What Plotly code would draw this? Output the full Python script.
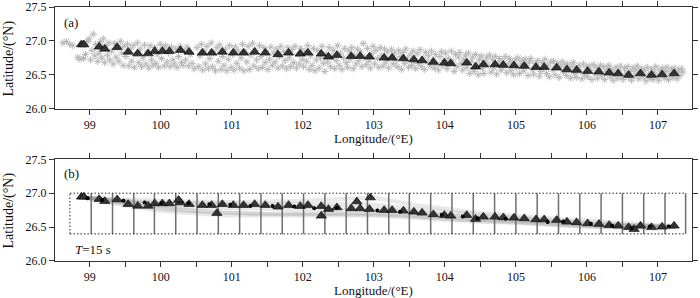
import plotly.graph_objects as go

# ---------------- data ----------------
# station triangles (panel a, also used in panel b)
tri_lon = [98.883, 98.916, 99.132, 99.211, 99.385, 99.540, 99.675, 99.821, 99.914, 100.022,
           100.121, 100.276, 100.398, 100.585, 100.716, 100.866, 101.021, 101.166, 101.321, 101.471,
           101.650, 101.799, 101.963, 102.072, 102.259, 102.361, 102.480, 102.681, 102.807, 102.938,
           103.145, 103.257, 103.416, 103.563, 103.679, 103.838, 103.993, 104.083, 104.308, 104.432,
           104.542, 104.706, 104.823, 104.973, 105.118, 105.283, 105.399, 105.574, 105.719, 105.855,
           106.010, 106.169, 106.314, 106.440, 106.587, 106.755, 106.910, 107.059, 107.228]
tri_lat = [26.946, 26.946, 26.912, 26.882, 26.907, 26.838, 26.813, 26.813, 26.849, 26.849,
           26.849, 26.863, 26.838, 26.824, 26.824, 26.838, 26.824, 26.824, 26.838, 26.824,
           26.799, 26.824, 26.809, 26.824, 26.809, 26.765, 26.790, 26.775, 26.775, 26.765,
           26.750, 26.750, 26.740, 26.725, 26.710, 26.687, 26.676, 26.666, 26.676, 26.618,
           26.651, 26.651, 26.643, 26.637, 26.628, 26.613, 26.613, 26.603, 26.578, 26.569,
           26.554, 26.544, 26.529, 26.519, 26.496, 26.519, 26.496, 26.504, 26.519]

# extra (displaced) triangles in panel b
tri_b_lon = [100.25, 100.79, 102.26, 102.76, 102.95, 106.665]
tri_b_lat = [26.90, 26.706, 26.666, 26.876, 26.935, 26.47]

# black dots in panel b
dot_lon = [98.97, 99.174, 99.474, 99.774, 100.008, 100.384, 100.684, 100.979, 101.260, 101.574,
           101.879, 102.160, 102.48, 103.05, 103.37, 103.956, 104.252, 104.46, 104.856, 105.447,
           105.667, 106.056, 106.356, 106.629, 106.886, 107.153]
dot_lat = [26.926, 26.901, 26.887, 26.862, 26.853, 26.853, 26.838, 26.828, 26.813, 26.813,
           26.803, 26.779, 26.78, 26.744, 26.725, 26.681, 26.657, 26.632, 26.622, 26.574,
           26.583, 26.549, 26.519, 26.485, 26.51, 26.51]

# gray asterisk cloud (panel a)
star_lon = [
    98.62, 98.67, 98.72, 98.76, 98.83, 98.86, 98.88, 98.91, 98.94, 98.97, 98.99,
    99.01, 99.03, 99.05, 99.07, 99.08, 99.11, 99.13, 99.15, 99.17, 99.19, 99.18,
    99.21, 99.23, 99.25, 99.27, 99.28, 99.31, 99.33, 99.35, 99.37, 99.39,
    99.41, 99.43, 99.45, 99.47, 99.48, 99.51, 99.53, 99.55, 99.57, 99.59,
    99.61, 99.63, 99.65, 99.67, 99.69, 99.71, 99.73, 99.75, 99.77, 99.79,
    99.81, 99.83, 99.85, 99.87, 99.89, 99.91, 99.93, 99.95, 99.97, 99.99,
    100.01, 100.03, 100.05, 100.07, 100.09, 100.11, 100.13, 100.15, 100.17, 100.19,
    100.21, 100.23, 100.25, 100.27, 100.29, 100.31, 100.33, 100.35, 100.37, 100.39,
    100.42, 100.44, 100.47,
    100.51, 100.53, 100.55, 100.57, 100.59, 100.61, 100.63, 100.65, 100.67, 100.69,
    100.71, 100.73, 100.75, 100.77, 100.79, 100.81, 100.83, 100.85, 100.87, 100.89,
    100.91, 100.93, 100.95, 100.97, 100.99, 101.01, 101.03, 101.05, 101.07, 101.09,
    101.11, 101.13, 101.15, 101.17, 101.19, 101.21, 101.23, 101.25, 101.27, 101.29,
    101.31, 101.33, 101.35, 101.37, 101.39, 101.41, 101.43, 101.45, 101.47, 101.49,
    101.51, 101.53, 101.55, 101.57, 101.59, 101.61, 101.63, 101.65, 101.67, 101.69,
    101.71, 101.73, 101.75, 101.77, 101.79, 101.81, 101.83, 101.85, 101.87, 101.89,
    101.91, 101.93, 101.95, 101.97, 101.99, 102.01, 102.03, 102.05, 102.07, 102.09,
    102.11, 102.13, 102.15, 102.17, 102.19, 102.21, 102.23, 102.25, 102.27, 102.29,
    102.31, 102.33, 102.35, 102.37, 102.39, 102.41, 102.43, 102.45, 102.47, 102.49,
    102.51, 102.53, 102.55, 102.57, 102.59, 102.61, 102.63, 102.65, 102.67, 102.69,
    102.71, 102.73, 102.75, 102.77, 102.79, 102.81, 102.83, 102.85, 102.87, 102.89,
    102.91, 102.93, 102.95, 102.97, 102.99, 103.01, 103.03, 103.05, 103.07, 103.09,
    103.11, 103.13, 103.15, 103.17, 103.19, 103.21, 103.23, 103.25, 103.27, 103.29,
    103.31, 103.33, 103.35, 103.37, 103.39, 103.41, 103.43, 103.45, 103.47, 103.49,
    103.51, 103.53, 103.55, 103.57, 103.59, 103.61, 103.63, 103.65, 103.67, 103.69,
    103.71, 103.73, 103.75, 103.77, 103.79, 103.81, 103.83, 103.85, 103.87, 103.89,
    103.91, 103.93, 103.95, 103.97, 103.99, 104.01, 104.03, 104.05, 104.07, 104.09,
    104.11, 104.13, 104.15, 104.17, 104.19, 104.21, 104.23, 104.25, 104.27, 104.29,
    104.31, 104.33, 104.35, 104.37, 104.39, 104.41, 104.43, 104.45, 104.47, 104.49,
    104.51, 104.53, 104.55, 104.57, 104.59, 104.61, 104.63, 104.65, 104.67, 104.69,
    104.71, 104.73, 104.75, 104.77, 104.79, 104.81, 104.83, 104.85, 104.87, 104.89,
    104.91, 104.93, 104.95, 104.97, 104.99, 105.01, 105.03, 105.05, 105.07, 105.09,
    105.11, 105.13, 105.15, 105.17, 105.19, 105.21, 105.23, 105.25, 105.27, 105.29,
    105.31, 105.33, 105.35, 105.37, 105.39, 105.41, 105.43, 105.45, 105.47, 105.49,
    105.51, 105.53, 105.55, 105.57, 105.59, 105.61, 105.63, 105.65, 105.67, 105.69,
    105.71, 105.73, 105.75, 105.77, 105.79, 105.81, 105.83, 105.85, 105.87, 105.89,
    105.91, 105.93, 105.95, 105.97, 105.99, 106.01, 106.03, 106.05, 106.07, 106.09,
    106.11, 106.13, 106.15, 106.17, 106.19, 106.21, 106.23, 106.25, 106.27, 106.29,
    106.31, 106.33, 106.35, 106.37, 106.39, 106.41, 106.43, 106.45, 106.47, 106.49,
    106.51, 106.53, 106.55, 106.57, 106.59, 106.61, 106.63, 106.65, 106.67, 106.69,
    106.71, 106.73, 106.75, 106.77, 106.79, 106.81, 106.83, 106.85, 106.87, 106.89,
    106.91, 106.93, 106.95, 106.97, 106.99, 107.01, 107.03, 107.05, 107.07, 107.09,
    107.11, 107.13, 107.15, 107.17, 107.19, 107.21, 107.23, 107.25, 107.27, 107.29,
    107.31, 107.33, 107.35]
star_lat = [
    26.97, 26.99, 26.95, 26.93, 26.76, 26.73, 26.96, 26.74, 26.80, 26.99, 27.03,
    26.72, 26.86, 27.10, 26.78, 26.95, 26.70, 26.82, 26.99, 26.75, 27.03, 26.90,
    26.68, 26.93, 26.79, 26.97, 26.72, 26.85, 26.66, 26.96, 26.76, 26.90,
    26.70, 26.99, 26.82, 26.64, 26.92, 26.77, 26.95, 26.63, 26.87, 26.70,
    26.93, 26.61, 26.80, 26.97, 26.68, 26.88, 26.62, 26.75, 26.94, 26.66,
    26.84, 26.60, 26.93, 26.72, 26.64, 26.90, 26.67, 26.80, 26.61, 26.95,
    26.74, 26.88, 26.63, 26.93, 26.69, 26.82, 26.62, 26.91, 26.72, 26.66,
    26.88, 26.61, 26.77, 26.92, 26.68, 26.64, 26.85, 26.72, 26.91, 26.63,
    26.80, 26.67, 26.59,
    26.90, 26.62, 26.78, 26.95, 26.57, 26.84, 26.66, 26.92, 26.59, 26.74,
    26.97, 26.62, 26.82, 26.56, 26.90, 26.70, 26.94, 26.58, 26.77, 26.64,
    26.88, 26.56, 26.73, 26.93, 26.61, 26.80, 26.57, 26.91, 26.67, 26.85,
    26.60, 26.75, 26.95, 26.56, 26.83, 26.69, 26.92, 26.58, 26.79, 26.96,
    26.63, 26.86, 26.72, 26.59, 26.93, 26.77, 26.61, 26.90, 26.68, 26.84,
    26.58, 26.73, 26.91, 26.64, 26.82, 26.69, 26.88, 26.60, 26.77, 26.92,
    26.63, 26.84, 26.71, 26.59, 26.90, 26.75, 26.62, 26.87, 26.68, 26.92,
    26.60, 26.80, 26.66, 26.89, 26.73, 26.62, 26.85, 26.70, 26.93, 26.58,
    26.78, 26.64, 26.89, 26.56, 26.72, 26.86, 26.60, 26.75, 26.92, 26.67,
    26.55, 26.81, 26.69, 26.90, 26.62, 26.77, 26.86, 26.59, 26.71, 26.93,
    26.64, 26.82, 26.58, 26.75, 26.89, 26.68, 26.61, 26.85, 26.73, 26.90,
    26.59, 26.79, 26.66, 26.88, 26.71, 26.84, 26.62, 26.96, 26.76, 26.65,
    26.89, 26.70, 26.60, 26.81, 26.92, 26.66, 26.86, 26.74, 26.61, 26.90,
    26.78, 26.63, 26.88, 26.69, 26.84, 26.60, 26.75, 26.87, 26.66, 26.81,
    26.71, 26.62, 26.86, 26.77, 26.58, 26.83, 26.67, 26.88, 26.73, 26.61,
    26.79, 26.64, 26.85, 26.70, 26.59, 26.81, 26.67, 26.87, 26.62, 26.75,
    26.58, 26.83, 26.69, 26.78, 26.63, 26.85, 26.72, 26.60, 26.80, 26.66,
    26.57, 26.77, 26.84, 26.64, 26.71, 26.82, 26.59, 26.74, 26.66, 26.85,
    26.70, 26.55, 26.80, 26.62, 26.76, 26.83, 26.67, 26.57, 26.73, 26.79,
    26.61, 26.82, 26.52, 26.70, 26.76, 26.55, 26.80, 26.66, 26.50, 26.73,
    26.78, 26.60, 26.52, 26.70, 26.76, 26.64, 26.79, 26.54, 26.72, 26.60,
    26.77, 26.51, 26.67, 26.74, 26.57, 26.70, 26.62, 26.77, 26.53, 26.66,
    26.74, 26.56, 26.68, 26.50, 26.72, 26.61, 26.75, 26.52, 26.66, 26.71,
    26.56, 26.73, 26.64, 26.49, 26.69, 26.74, 26.58, 26.51, 26.67, 26.62,
    26.71, 26.48, 26.55, 26.68, 26.60, 26.73, 26.52, 26.64, 26.47, 26.69,
    26.58, 26.70, 26.50, 26.63, 26.67, 26.46, 26.61, 26.69, 26.54, 26.65,
    26.49, 26.66, 26.57, 26.45, 26.62, 26.68, 26.52, 26.46, 26.60, 26.64,
    26.55, 26.44, 26.66, 26.50, 26.61, 26.47, 26.63, 26.57, 26.43, 26.65,
    26.52, 26.61, 26.45, 26.58, 26.64, 26.49, 26.62, 26.43, 26.55, 26.60,
    26.64, 26.47, 26.58, 26.42, 26.52, 26.61, 26.45, 26.56, 26.63, 26.49,
    26.43, 26.59, 26.52, 26.62, 26.46, 26.55, 26.42, 26.60, 26.49, 26.57,
    26.63, 26.44, 26.53, 26.59, 26.47, 26.56, 26.41, 26.61, 26.50, 26.45,
    26.58, 26.43, 26.54, 26.62, 26.48, 26.42, 26.57, 26.51, 26.60, 26.45,
    26.55, 26.61, 26.43, 26.52, 26.58, 26.46, 26.60, 26.53, 26.44, 26.57,
    26.49, 26.59, 26.54]

# ray-path band (panel b)
path_lon = [98.9, 99.5, 100.0, 100.5, 101.0, 101.5, 102.0, 102.5, 103.0, 103.5,
            104.0, 104.5, 105.0, 105.5, 106.0, 106.5, 107.25]
path_lats = [
    [26.94, 26.91, 26.89, 26.88, 26.87, 26.88, 26.89, 26.91, 26.93, 26.84, 26.77, 26.71, 26.67, 26.63, 26.60, 26.56, 26.52],
    [26.94, 26.89, 26.86, 26.85, 26.84, 26.84, 26.84, 26.84, 26.83, 26.78, 26.73, 26.68, 26.64, 26.60, 26.57, 26.54, 26.51],
    [26.94, 26.88, 26.84, 26.83, 26.82, 26.81, 26.80, 26.79, 26.77, 26.73, 26.69, 26.65, 26.62, 26.59, 26.55, 26.53, 26.51],
    [26.94, 26.86, 26.81, 26.79, 26.78, 26.77, 26.76, 26.75, 26.74, 26.71, 26.67, 26.63, 26.60, 26.57, 26.54, 26.52, 26.50],
    [26.94, 26.84, 26.77, 26.73, 26.71, 26.70, 26.70, 26.70, 26.70, 26.67, 26.64, 26.61, 26.58, 26.55, 26.52, 26.51, 26.50],
    [26.94, 26.82, 26.74, 26.70, 26.67, 26.67, 26.67, 26.67, 26.67, 26.64, 26.61, 26.58, 26.56, 26.53, 26.51, 26.50, 26.50],
    [26.94, 26.87, 26.80, 26.74, 26.71, 26.69, 26.69, 26.69, 26.68, 26.66, 26.62, 26.59, 26.57, 26.54, 26.51, 26.49, 26.50],
]

# box grid (panel b)
box_edges = [98.72, 99.02, 99.32, 99.62, 99.91, 100.21, 100.51, 100.81, 101.11, 101.41,
             101.71, 102.01, 102.31, 102.61, 102.91, 103.21, 103.50, 103.80, 104.10, 104.40,
             104.70, 105.00, 105.30, 105.60, 105.90, 106.20, 106.50, 106.80, 107.10, 107.39]
box_lat_bottom = 26.4
box_lat_top = 27.0

x_range = [98.51, 107.48]
y_range = [26.0, 27.5]

# ---------------- figure ----------------
FONT = "Liberation Serif"
TXT = "#111111"
fig = go.Figure()

# panel a
fig.add_trace(go.Scatter(x=star_lon, y=star_lat, mode="markers", xaxis="x", yaxis="y",
                         marker=dict(symbol="asterisk-open", size=6, color="#b8b8b8",
                                     line=dict(color="#b8b8b8", width=1)),
                         showlegend=False, hoverinfo="skip"))
fig.add_trace(go.Scatter(x=tri_lon, y=tri_lat, mode="markers", xaxis="x", yaxis="y",
                         marker=dict(symbol="triangle-up", size=9, color="#333333",
                                     line=dict(color="#000000", width=0.6)),
                         showlegend=False))

# panel b: ray paths
for lats in path_lats:
    fig.add_trace(go.Scatter(x=path_lon, y=lats, mode="lines", xaxis="x2", yaxis="y2",
                             line=dict(color="rgba(120,120,120,0.16)", width=4, shape="spline"),
                             showlegend=False, hoverinfo="skip"))

# panel b: boxes
vx, vy = [], []
for e in box_edges[1:]:
    vx += [e, e, None]
    vy += [box_lat_bottom, box_lat_top, None]
fig.add_trace(go.Scatter(x=vx, y=vy, mode="lines", xaxis="x2", yaxis="y2",
                         line=dict(color="#6e6e6e", width=1.5),
                         showlegend=False, hoverinfo="skip"))
dx = [box_edges[0], box_edges[-1], None, box_edges[0], box_edges[-1], None, box_edges[0], box_edges[0]]
dy = [box_lat_top, box_lat_top, None, box_lat_bottom, box_lat_bottom, None, box_lat_bottom, box_lat_top]
fig.add_trace(go.Scatter(x=dx, y=dy, mode="lines", xaxis="x2", yaxis="y2",
                         line=dict(color="#222222", width=1, dash="1.5px,2px"),
                         showlegend=False, hoverinfo="skip"))

fig.add_trace(go.Scatter(x=tri_lon + tri_b_lon, y=tri_lat + tri_b_lat, mode="markers",
                         xaxis="x2", yaxis="y2",
                         marker=dict(symbol="triangle-up", size=9, color="#333333",
                                     line=dict(color="#000000", width=0.6)),
                         showlegend=False))
fig.add_trace(go.Scatter(x=dot_lon, y=dot_lat, mode="markers", xaxis="x2", yaxis="y2",
                         marker=dict(symbol="circle", size=4, color="#000000"),
                         showlegend=False))

axis_common = dict(showline=True, linecolor="#333333", linewidth=1, mirror="allticks",
                   ticks="outside", ticklen=5, tickcolor="#333333", showgrid=False,
                   zeroline=False, automargin=False,
                   tickfont=dict(family=FONT, size=12, color=TXT))
xcommon = dict(axis_common, range=x_range, dtick=1, tick0=99,
               minor=dict(dtick=0.5, ticks="outside", ticklen=5, tickcolor="#333333", showgrid=False))
ycommon = dict(axis_common, range=y_range, dtick=0.5, tick0=26.0, tickformat=".1f")

# paper y of a pixel row: (261 - px) / 254 ; paper x of pixel col: (px - 55) / 637
fig.update_layout(
    width=700, height=298,
    margin=dict(l=55, r=8, t=7, b=37),
    paper_bgcolor="white", plot_bgcolor="white",
    xaxis=dict(xcommon, domain=[0, 1], anchor="y"),
    yaxis=dict(ycommon, domain=[0.5996, 1.0], anchor="x"),
    xaxis2=dict(xcommon, domain=[0, 1], anchor="y2"),
    yaxis2=dict(ycommon, domain=[0.0, 0.4004], anchor="x2"),
    annotations=[
        dict(text="Longitude/(°E)", xref="paper", yref="paper", x=0.5, y=(261 - 138.5) / 254,
             xanchor="center", yanchor="middle", showarrow=False,
             font=dict(family=FONT, size=13, color=TXT)),
        dict(text="Longitude/(°E)", xref="paper", yref="paper", x=0.5, y=(261 - 290) / 254,
             xanchor="center", yanchor="middle", showarrow=False,
             font=dict(family=FONT, size=13, color=TXT)),
        dict(text="Latitude/(°N)", xref="paper", yref="paper", x=(8.5 - 55) / 637,
             y=(261 - 58) / 254, xanchor="center", yanchor="middle", textangle=-90,
             showarrow=False, font=dict(family=FONT, size=14, color=TXT)),
        dict(text="Latitude/(°N)", xref="paper", yref="paper", x=(8.5 - 55) / 637,
             y=(261 - 210) / 254, xanchor="center", yanchor="middle", textangle=-90,
             showarrow=False, font=dict(family=FONT, size=14, color=TXT)),
        dict(text="(a)", xref="x domain", yref="y domain", x=0.011, y=0.846,
             xanchor="left", yanchor="middle", showarrow=False,
             font=dict(family=FONT, size=13, color=TXT)),
        dict(text="(b)", xref="x2 domain", yref="y2 domain", x=0.011, y=0.862,
             xanchor="left", yanchor="middle", showarrow=False,
             font=dict(family=FONT, size=13, color=TXT)),
        dict(text="<i>T</i>=15 s", xref="x2 domain", yref="y2 domain", x=0.028, y=0.115,
             xanchor="left", yanchor="middle", showarrow=False,
             font=dict(family=FONT, size=13, color=TXT)),
    ],
)

fig.write_html("out.html", config={"displayModeBar": False},
               post_script="document.body.style.margin='0px';document.body.style.padding='0px';"
                           "document.documentElement.style.overflow='hidden';")
